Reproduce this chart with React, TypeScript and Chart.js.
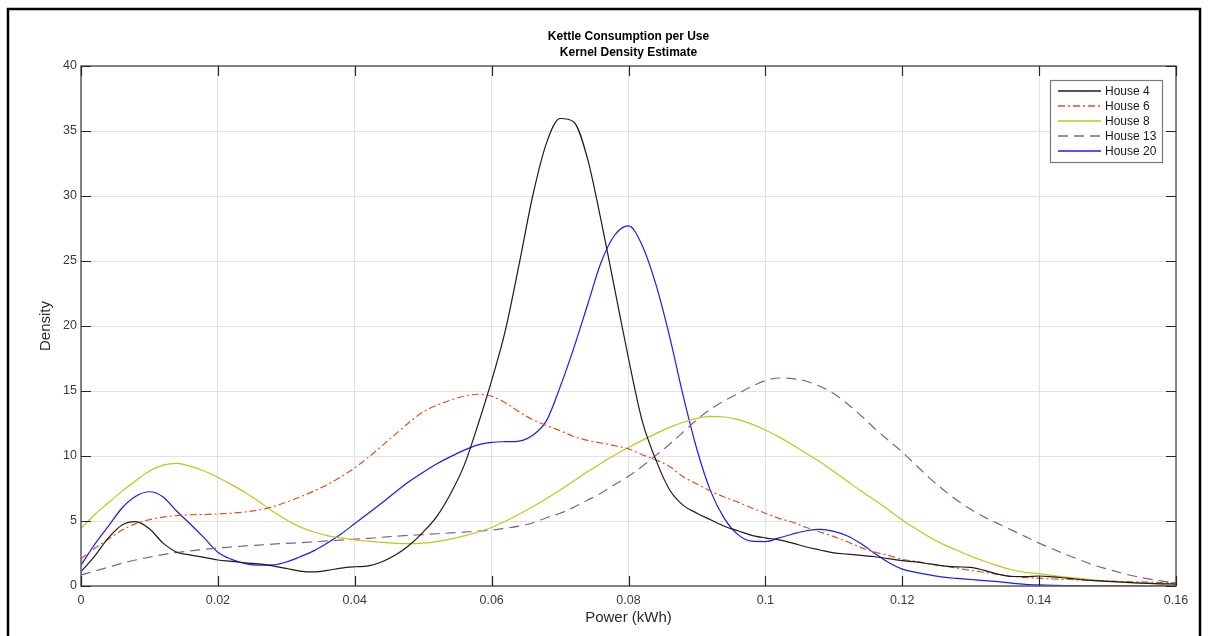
import React, { useEffect, useRef } from "react";
import { Chart, registerables } from "chart.js";
Chart.register(...registerables);

const TITLE_LINES = ["Kettle Consumption per Use", "Kernel Density Estimate"];
const X_LABEL = "Power (kWh)";
const Y_LABEL = "Density";
const X_TICKS = [0, 0.02, 0.04, 0.06, 0.08, 0.1, 0.12, 0.14, 0.16];
const Y_TICKS = [0, 5, 10, 15, 20, 25, 30, 35, 40];
const SERIES_LABELS = ["House 4", "House 6", "House 8", "House 13", "House 20"];

// KDE evaluation grid: 0 .. 0.16 kWh every 0.002 kWh (81 points)
const powerKWh = Array.from({ length: 81 }, (_, i) => (i * 2) / 1000);

const house4 = [
  1.1, 2.3, 3.7, 4.7, 4.95, 4.4, 3.3, 2.6, 2.38, 2.2,
  2.0, 1.9, 1.78, 1.7, 1.55, 1.35, 1.15, 1.08, 1.2, 1.38,
  1.48, 1.55, 1.87, 2.4, 3.16, 4.15, 5.36, 7.1, 9.3, 12.4,
  15.8, 19.65, 24.7, 30.0, 34.05, 35.96, 35.7, 32.9, 28.1, 22.8,
  17.5, 12.7, 9.7, 7.4, 6.2, 5.6, 5.1, 4.6, 4.25, 3.9,
  3.7, 3.55, 3.3, 3.0, 2.77, 2.55, 2.45, 2.35, 2.25, 2.1,
  1.95, 1.85, 1.7, 1.55, 1.47, 1.44, 1.2, 0.9, 0.73, 0.72,
  0.77, 0.7, 0.6, 0.5, 0.42, 0.36, 0.3, 0.24, 0.2, 0.17,
  0.15,
];
const house6 = [
  2.1, 2.9, 3.6, 4.3, 4.8, 5.1, 5.3, 5.42, 5.48, 5.5,
  5.55, 5.6, 5.7, 5.85, 6.1, 6.45, 6.85, 7.3, 7.8, 8.4,
  9.1, 9.9, 10.8, 11.7, 12.6, 13.4, 13.9, 14.3, 14.6, 14.75,
  14.6, 14.1, 13.4, 12.8, 12.35, 11.95, 11.5, 11.2, 11.0, 10.8,
  10.55, 10.1, 9.7, 9.2, 8.4, 7.85, 7.3, 6.85, 6.45, 6.0,
  5.6, 5.2, 4.9, 4.5, 4.15, 3.8, 3.4, 2.95, 2.6, 2.35,
  2.05, 1.9, 1.7, 1.55, 1.38, 1.2, 1.05, 0.9, 0.75, 0.65,
  0.6, 0.55, 0.5, 0.46, 0.42, 0.38, 0.35, 0.32, 0.3, 0.27,
  0.25,
];
const house8 = [
  4.44, 5.5, 6.4, 7.3, 8.1, 8.85, 9.3, 9.44, 9.2, 8.85,
  8.35, 7.8, 7.2, 6.5, 5.75, 5.1, 4.55, 4.15, 3.88, 3.7,
  3.55, 3.45, 3.35, 3.28, 3.26, 3.3, 3.42, 3.6, 3.85, 4.15,
  4.5, 4.98, 5.52, 6.1, 6.72, 7.38, 8.08, 8.78, 9.45, 10.07,
  10.65, 11.2, 11.72, 12.2, 12.6, 12.9, 13.05, 13.0, 12.8, 12.45,
  12.0, 11.45, 10.85, 10.2, 9.55, 8.8, 8.05, 7.3, 6.6, 5.85,
  5.08, 4.4, 3.75, 3.2, 2.75, 2.3, 1.9, 1.55, 1.25, 1.05,
  0.95, 0.8, 0.68, 0.56, 0.47, 0.38, 0.31, 0.25, 0.2, 0.17,
  0.15,
];
const house13 = [
  0.85, 1.15, 1.45, 1.75, 2.0, 2.22, 2.42, 2.58, 2.7, 2.82,
  2.92, 3.0, 3.08, 3.15, 3.22, 3.28, 3.33, 3.4, 3.47, 3.53,
  3.6, 3.67, 3.75, 3.83, 3.9, 3.95, 4.02, 4.08, 4.15, 4.22,
  4.3, 4.45, 4.6, 4.85, 5.25, 5.6, 6.05, 6.6, 7.15, 7.8,
  8.45, 9.2, 10.05, 10.9, 11.85, 12.8, 13.6, 14.25, 14.8, 15.35,
  15.8, 16.0, 15.95, 15.75, 15.35, 14.8, 14.0, 13.1, 12.1, 11.2,
  10.3, 9.3, 8.3, 7.4, 6.6, 5.9, 5.3, 4.8, 4.3, 3.8,
  3.3, 2.85, 2.4, 2.0, 1.6, 1.3, 1.0, 0.75, 0.55, 0.38,
  0.25,
];
const house20 = [
  1.6, 3.2, 4.6, 6.0, 6.9, 7.25, 6.85, 5.75, 4.75, 3.7,
  2.6, 2.05, 1.72, 1.6, 1.62, 1.85, 2.25, 2.7, 3.3, 4.0,
  4.8, 5.6, 6.4, 7.25, 8.05, 8.75, 9.4, 9.95, 10.45, 10.85,
  11.05, 11.1, 11.15, 11.6, 12.7, 15.3, 18.3, 21.6, 24.9, 27.0,
  27.7, 26.2, 23.2, 19.2, 14.6, 10.5, 7.3, 5.2, 3.95, 3.45,
  3.42, 3.7, 4.0, 4.25, 4.35, 4.2, 3.85, 3.25, 2.5, 1.8,
  1.3, 1.05, 0.85, 0.68, 0.58, 0.5, 0.42, 0.33, 0.22, 0.13,
  0.08, 0.05, 0.03, 0.02, 0.01, 0.01, 0.01, 0.0, 0.0, 0.0,
  0.0,
];

const SERIES = [house4, house6, house8, house13, house20];
const COLORS = ["#1c1c1c", "#d9541a", "#c4c41a", "#7e5f9c", "#1a1aff"];
const DASHES: number[][] = [[], [7, 3, 2, 3], [], [10, 6], []];

const FONT = "'Liberation Sans', Arial, Helvetica, sans-serif";

const decorPlugin = {
  id: "decor",
  beforeDraw(chart: any) {
    const { ctx, width, height } = chart;
    ctx.save();
    ctx.fillStyle = "#ffffff";
    ctx.fillRect(0, 0, width, height);
    ctx.restore();
  },
  afterDraw(chart: any) {
    const { ctx } = chart;
    const { left, right, top, bottom } = chart.chartArea;
    const xs = chart.scales.x;
    const ys = chart.scales.y;
    ctx.save();
    // axes box
    ctx.strokeStyle = "#5e5e5e";
    ctx.lineWidth = 1.5;
    ctx.setLineDash([]);
    ctx.strokeRect(left, top, right - left, bottom - top);
    // inward tick marks
    ctx.strokeStyle = "#262626";
    ctx.lineWidth = 1.2;
    const tl = 10;
    ctx.beginPath();
    X_TICKS.forEach((v) => {
      const px = Math.round(xs.getPixelForValue(v)) + 0.5;
      ctx.moveTo(px, bottom);
      ctx.lineTo(px, bottom - tl);
      ctx.moveTo(px, top);
      ctx.lineTo(px, top + tl);
    });
    Y_TICKS.forEach((v) => {
      const py = Math.round(ys.getPixelForValue(v)) + 0.5;
      ctx.moveTo(left, py);
      ctx.lineTo(left + tl, py);
      ctx.moveTo(right, py);
      ctx.lineTo(right - tl, py);
    });
    ctx.stroke();

    // legend
    const lx = 1050, ly = 80, lw = 112, lh = 82;
    ctx.fillStyle = "#ffffff";
    ctx.fillRect(lx, ly, lw, lh);
    ctx.strokeStyle = "#7a7a7a";
    ctx.lineWidth = 1.2;
    ctx.strokeRect(lx + 0.5, ly + 0.5, lw, lh);
    ctx.font = `12px ${FONT}`;
    ctx.textBaseline = "middle";
    ctx.textAlign = "left";
    SERIES_LABELS.forEach((label, i) => {
      const ry = ly + 11 + i * 15;
      ctx.strokeStyle = COLORS[i];
      ctx.lineWidth = 1.4;
      ctx.setLineDash(DASHES[i]);
      ctx.beginPath();
      ctx.moveTo(1058, ry);
      ctx.lineTo(1101, ry);
      ctx.stroke();
      ctx.setLineDash([]);
      ctx.fillStyle = "#1a1a1a";
      ctx.fillText(label, 1105, ry + 1);
    });

    // title
    ctx.fillStyle = "#000000";
    ctx.textAlign = "center";
    ctx.font = `bold 12px ${FONT}`;
    const cx = (left + right) / 2;
    ctx.fillText(TITLE_LINES[0], cx, 37);
    ctx.fillText(TITLE_LINES[1], cx, 53);

    // axis titles
    ctx.fillStyle = "#2a2a2a";
    ctx.font = `15px ${FONT}`;
    ctx.fillText(X_LABEL, cx, 618);
    ctx.save();
    ctx.translate(46, (top + bottom) / 2);
    ctx.rotate(-Math.PI / 2);
    ctx.fillText(Y_LABEL, 0, 0);
    ctx.restore();

    // outer frame
    ctx.strokeStyle = "#000000";
    ctx.lineWidth = 2.5;
    ctx.strokeRect(8, 9, 1192, 660);
    ctx.restore();
  },
};

export default function App() {
  const ref = useRef<HTMLCanvasElement | null>(null);
  useEffect(() => {
    document.body.style.margin = "0";
    const canvas = ref.current;
    if (!canvas) return;
    const chart = new Chart(canvas, {
      type: "line",
      data: {
        datasets: SERIES.map((arr, i) => ({
          label: SERIES_LABELS[i],
          data: powerKWh.map((x, j) => ({ x, y: arr[j] })),
          borderColor: COLORS[i],
          backgroundColor: COLORS[i],
          borderDash: DASHES[i],
          borderWidth: 1.2,
          pointRadius: 0,
          fill: false,
          cubicInterpolationMode: "monotone" as const,
        })),
      },
      options: {
        animation: false,
        responsive: false,
        devicePixelRatio: 1,
        layout: { padding: { left: 0, right: 33, top: 66, bottom: 0 } },
        plugins: {
          legend: { display: false },
          title: { display: false },
          tooltip: { enabled: false },
        },
        scales: {
          x: {
            type: "linear",
            min: 0,
            max: 0.16,
            afterFit: (s: any) => {
              s.height = 50;
            },
            afterBuildTicks: (s: any) => {
              s.ticks = X_TICKS.map((v) => ({ value: v }));
            },
            grid: { color: "#e2e2e2", lineWidth: 1, drawTicks: false },
            border: { display: false },
            ticks: {
              padding: 7,
              color: "#3a3a3a",
              font: { family: FONT, size: 12.5 },
              maxRotation: 0,
              autoSkip: false,
              callback: (v: any) => String(Number(Number(v).toFixed(2))),
            },
          },
          y: {
            type: "linear",
            min: 0,
            max: 40,
            afterFit: (s: any) => {
              s.width = 81;
            },
            afterBuildTicks: (s: any) => {
              s.ticks = Y_TICKS.map((v) => ({ value: v }));
            },
            grid: { color: "#e2e2e2", lineWidth: 1, drawTicks: false },
            border: { display: false },
            ticks: {
              padding: 4,
              color: "#3a3a3a",
              font: { family: FONT, size: 12.5 },
              autoSkip: false,
              callback: (v: any) => String(v),
            },
          },
        },
      },
      plugins: [decorPlugin],
    });
    return () => chart.destroy();
  }, []);
  return (
    <div style={{ width: 1209, height: 636, position: "relative" }}>
      <canvas ref={ref} width={1209} height={636} style={{ display: "block" }} />
    </div>
  );
}
